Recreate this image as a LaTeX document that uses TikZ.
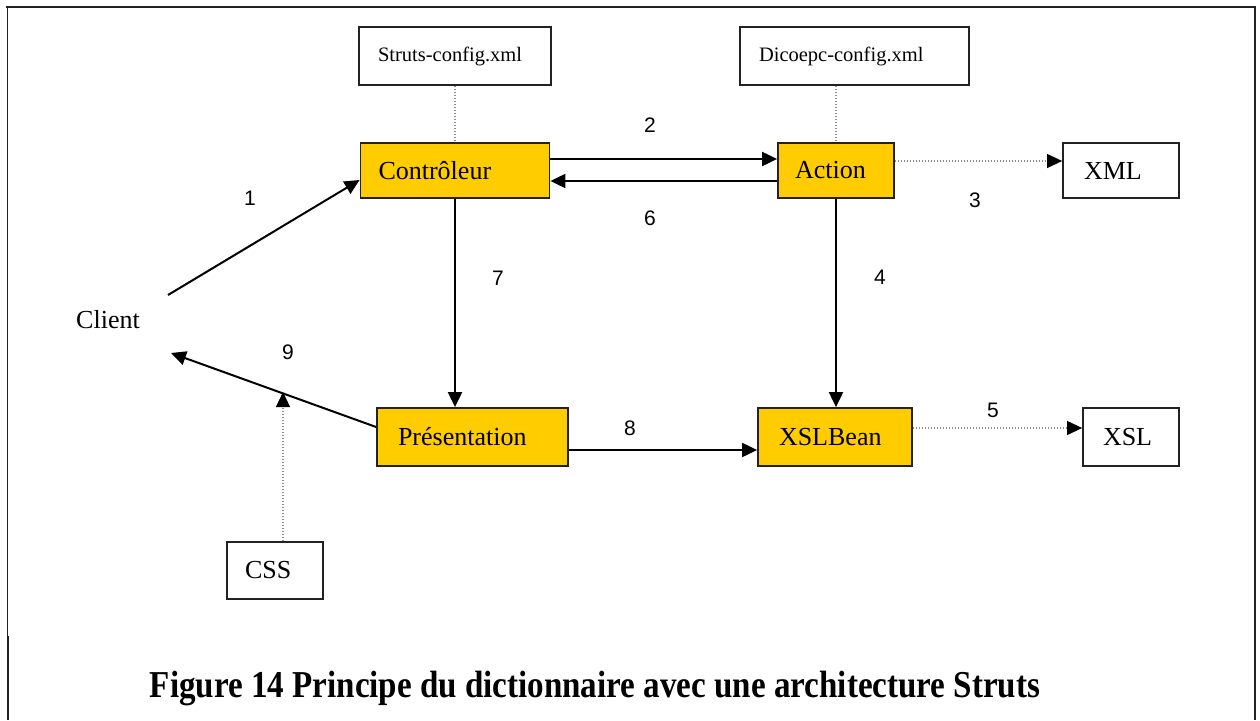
\documentclass[tikz,border=0pt]{standalone}
\usepackage{fontspec}
\setmainfont{Liberation Serif}
\newfontfamily\sansf{Liberation Sans}
\usetikzlibrary{arrows.meta,calc}
\definecolor{gold}{HTML}{FFCC00}
\definecolor{edge}{HTML}{222222}
\definecolor{dotc}{HTML}{8C8C8C}
\tikzset{
  boxbase/.style={draw=edge, line width=1.8pt, rectangle, inner xsep=0pt, inner ysep=0pt,
    align=left, font=\fontsize{26}{30}\selectfont},
  wbox/.style={boxbase, fill=white},
  gbox/.style={boxbase, fill=gold},
  cfgbox/.style={boxbase, fill=white, font=\fontsize{20.5}{24}\selectfont},
  arr/.style={line width=2pt, draw=black, -{Triangle[length=15pt,width=14pt]}},
  dotarr/.style={line width=1.1pt, draw=dotc, dash pattern=on 1.5pt off 1.5pt,
    -{Triangle[length=15pt,width=14pt,fill=black,color=black]}},
  dotline/.style={line width=1.1pt, draw=dotc, dash pattern=on 1.5pt off 1.5pt},
  num/.style={font=\sansf\fontsize{21}{24}\selectfont, inner sep=0pt},
  framel/.style={draw=edge}
}
\begin{document}
\begin{tikzpicture}[x=1pt, y=-1pt]
\useasboundingbox (0,0) rectangle (1260,720);
% frame
\draw[framel, line width=2.5pt] (6,7) -- (1256,7);
\draw[framel, line width=1pt] (7,7) -- (7,636);
\draw[framel, line width=2pt] (8,636) -- (8,720);
\draw[framel, line width=2pt] (1255,7) -- (1255,720);

% nodes
\node[cfgbox, minimum width=192pt, minimum height=58pt, text width=154pt] (struts) at (455,56) {Struts-config.xml};
\node[cfgbox, minimum width=229pt, minimum height=58pt, text width=191pt] (dico) at (854.5,56) {Dicoepc-config.xml};
\node[gbox, minimum width=189pt, minimum height=55pt, text width=153pt] (ctrl) at (455,170.5) {Contrôleur};
\node[gbox, minimum width=116pt, minimum height=55pt, text width=82pt] (action) at (836,170.5) {Action};
\node[wbox, minimum width=116pt, minimum height=55pt, text width=74pt] (xml) at (1121,170.5) {XML};
\node[gbox, minimum width=191pt, minimum height=58pt, text width=149pt] (pres) at (472.5,437) {Présentation};
\node[gbox, minimum width=154pt, minimum height=58pt, text width=112pt] (xslb) at (835,437) {XSLBean};
\node[wbox, minimum width=96pt, minimum height=58pt, text width=56pt] (xsl) at (1131,437) {XSL};
\node[wbox, minimum width=96pt, minimum height=57pt, text width=60pt] (css) at (275,570.5) {CSS};
\node[font=\fontsize{26}{30}\selectfont, inner sep=0pt] (client) at (108,320) {Client};

% free ends
\coordinate (c1) at (168,295);
\coordinate (c9) at (171,353);
\coordinate (m9) at (283,392);

% connectors
\draw[arr] (c1) -- ($(ctrl.west)+(0,9.5)$);
\draw[arr] ($(ctrl.east)+(0,-11.5)$) -- ($(action.west)+(0,-11.5)$);
\draw[arr] ($(action.west)+(0,10.5)$) -- ($(ctrl.east)+(0,10.5)$);
\draw[dotarr] ($(action.east)+(0,-9.5)$) -- ($(xml.west)+(0,-9.5)$);
\draw[arr] (action.south) -- (action.south |- xslb.north);
\draw[dotarr] ($(xslb.east)+(0,-9)$) -- ($(xsl.west)+(0,-9)$);
\draw[arr] (ctrl.south) -- (ctrl.south |- pres.north);
\draw[arr] ($(pres.east)+(0,13)$) -- ($(xslb.west)+(0,13)$);
\draw[arr] ($(pres.west)+(0,-10)$) -- (c9);
\draw[dotarr] (css.north -| m9) -- (m9);
\draw[dotline] (struts.south) -- (struts.south |- ctrl.north);
\draw[dotline] (dico.south -| action.north) -- (action.north);

% labels
\node[num] (n1) at (250,198) {1};
\node[num] (n2) at (650,125) {2};
\node[num] (n3) at (975,200) {3};
\node[num] (n4) at (880,277) {4};
\node[num] (n5) at (993,410) {5};
\node[num] (n6) at (650,218) {6};
\node[num] (n7) at (498,278) {7};
\node[num] (n8) at (630,428) {8};
\node[num] (n9) at (288,352) {9};

% caption
\node[inner sep=0pt] (cap) at (595,688) {\scalebox{0.87}[1]{\fontsize{38}{42}\selectfont\bfseries Figure 14 Principe du dictionnaire avec une architecture Struts}};
\end{tikzpicture}
\end{document}
